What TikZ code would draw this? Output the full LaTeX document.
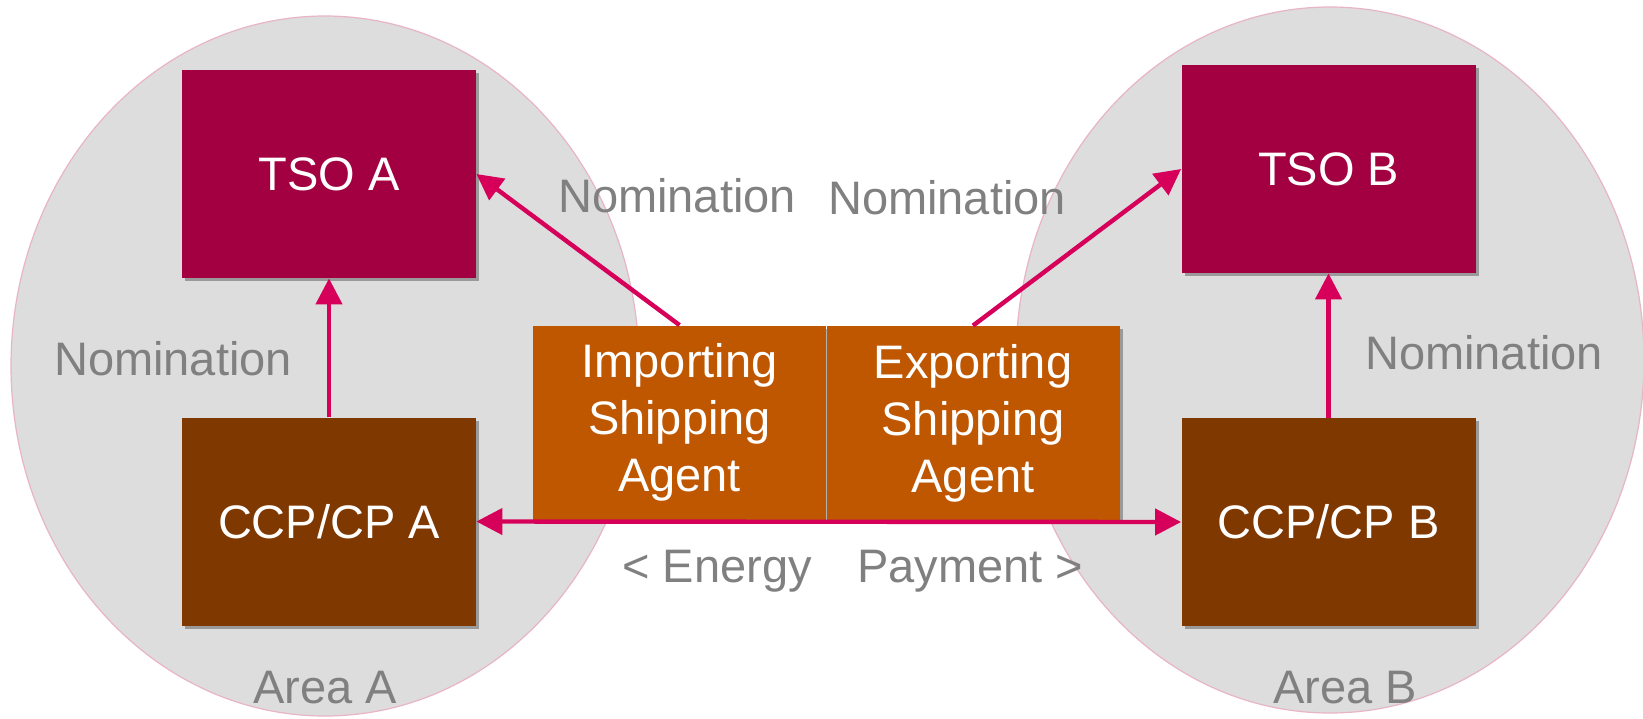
\documentclass[tikz,border=0pt]{standalone}
\usepackage{fontspec}
\setmainfont{Liberation Sans}
\usetikzlibrary{arrows.meta,shadows}
\definecolor{tsocol}{HTML}{A20040}
\definecolor{ccpcol}{HTML}{7F3800}
\definecolor{agcol}{HTML}{BF5600}
\definecolor{arrcol}{HTML}{D6005A}
\definecolor{areacol}{HTML}{DDDDDD}
\definecolor{areaedge}{HTML}{E8B4C6}
\definecolor{labcol}{HTML}{808080}
\tikzset{
  box/.style={rectangle, inner sep=0pt, text=white, align=center,
    font=\fontsize{23.5}{28.5}\selectfont,
    drop shadow={shadow xshift=1.5pt, shadow yshift=-1.5pt, opacity=0.3, fill=black}},
  tsobox/.style={box, fill=tsocol, minimum width=147pt, minimum height=104pt},
  ccpbox/.style={box, fill=ccpcol, minimum width=147pt, minimum height=104pt},
  agbox/.style={box, fill=agcol, minimum width=146.5pt, minimum height=97pt},
  lab/.style={inner sep=0pt, anchor=base, text=labcol, font=\fontsize{23.5}{28.5}\selectfont},
  arr/.style={draw=arrcol, line width=2.2pt, -{Triangle[length=13pt,width=13pt]}},
  area/.style={fill=areacol, draw=areaedge, line width=0.6pt}
}
\begin{document}
\begin{tikzpicture}[x=0.5pt,y=-0.5pt]
\useasboundingbox (0,0) rectangle (1643,718);
\fill[white] (0,0) rectangle (1643,718);
% areas
\path[area] (325,366) ellipse [x radius=314, y radius=350];
\path[area] (1330,360) ellipse [x radius=314, y radius=353];
% boxes
\node[tsobox] (tsoA) at (329,174) {TSO A};
\node[ccpbox] (ccpA) at (329,521.5) {CCP/CP A};
\node[tsobox] (tsoB) at (1328.5,169) {TSO B};
\node[ccpbox] (ccpB) at (1328.5,522) {CCP/CP B};
\node[agbox] (imp) at (679.5,422.5) {Importing\\Shipping\\Agent};
\node[agbox] (exp) at (973,423) {Exporting\\Shipping\\Agent};
% connectors
\draw[arr] (imp.north) -- (tsoA.east);
\draw[arr] (exp.north) -- (tsoB.west);
\draw[arr] (ccpA.north) -- (tsoA.south);
\draw[arr] (ccpB.north) -- (tsoB.south);
\draw[arr, {Triangle[length=13pt,width=13pt]}-{Triangle[length=13pt,width=13pt]}] (ccpA.east) -- (ccpB.west);
% labels
\node[lab] (n1) at (677,212) {Nomination};
\node[lab] (n2) at (947,214) {Nomination};
\node[lab] (n3) at (173,375) {Nomination};
\node[lab] (n4) at (1484,369) {Nomination};
\node[lab] (en) at (717,582) {< Energy};
\node[lab] (pay) at (970,582) {Payment >};
\node[lab] (aA) at (325,703) {Area A};
\node[lab] (aB) at (1345,703) {Area B};
\end{tikzpicture}
\end{document}
